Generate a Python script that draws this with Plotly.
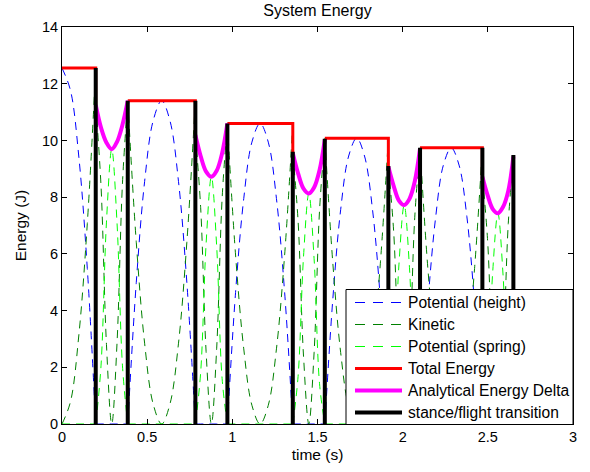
import plotly.graph_objects as go

# ---------------- data ----------------
touchdown_t = [0.198, 0.783, 1.355, 1.916, 2.468]
liftoff_t = [0.386, 0.971, 1.543, 2.102, 2.650]
flight_start_t = [0.0, 0.386, 0.971, 1.543, 2.102]
flight_level = [12.55, 11.40, 10.60, 10.08, 9.74]
touchdown_line_top = [12.55, 11.40, 9.60, 9.10, 9.74]
liftoff_line_top = [11.40, 10.60, 10.06, 9.74, 9.49]

flight_t = [
    [0.0, 0.0495, 0.099, 0.1485, 0.198],
    [0.386, 0.436, 0.485, 0.535, 0.585, 0.634, 0.684, 0.733, 0.783],
    [0.971, 1.019, 1.067, 1.115, 1.163, 1.211, 1.259, 1.307, 1.355],
    [1.543, 1.590, 1.636, 1.683, 1.730, 1.776, 1.823, 1.869, 1.916],
    [2.102, 2.148, 2.194, 2.239, 2.285, 2.331, 2.377, 2.422, 2.468],
]
flight_pe_height = [
    [12.55, 11.77, 9.41, 5.49, 0.0],
    [0.0, 4.99, 8.55, 10.69, 11.40, 10.69, 8.55, 4.99, 0.0],
    [0.0, 4.64, 7.95, 9.94, 10.60, 9.94, 7.95, 4.64, 0.0],
    [0.0, 4.41, 7.56, 9.45, 10.08, 9.45, 7.56, 4.41, 0.0],
    [0.0, 4.26, 7.31, 9.13, 9.74, 9.13, 7.31, 4.26, 0.0],
]
flight_kinetic = [
    [0.0, 0.78, 3.14, 7.06, 12.55],
    [11.40, 6.41, 2.85, 0.71, 0.0, 0.71, 2.85, 6.41, 11.40],
    [10.60, 5.96, 2.65, 0.66, 0.0, 0.66, 2.65, 5.96, 10.60],
    [10.08, 5.67, 2.52, 0.63, 0.0, 0.63, 2.52, 5.67, 10.08],
    [9.74, 5.48, 2.43, 0.61, 0.0, 0.61, 2.43, 5.48, 9.74],
]
flight_spring = [
    [0.0, 0.0],
    [0.0, 0.0],
    [0.0, 0.0],
    [0.0, 0.0],
    [0.0, 0.0],
]

stance_t = [
    [0.198, 0.229, 0.261, 0.292, 0.323, 0.355, 0.386],
    [0.783, 0.814, 0.846, 0.877, 0.908, 0.940, 0.971],
    [1.355, 1.386, 1.418, 1.449, 1.480, 1.512, 1.543],
    [1.916, 1.947, 1.978, 2.009, 2.040, 2.071, 2.102],
    [2.468, 2.498, 2.529, 2.559, 2.589, 2.620, 2.650],
]
stance_pe_height = [
    [0.0, 0.0, 0.0, 0.0, 0.0, 0.0, 0.0],
    [0.0, 0.0, 0.0, 0.0, 0.0, 0.0, 0.0],
    [0.0, 0.0, 0.0, 0.0, 0.0, 0.0, 0.0],
    [0.0, 0.0, 0.0, 0.0, 0.0, 0.0, 0.0],
    [0.0, 0.0, 0.0, 0.0, 0.0, 0.0, 0.0],
]
stance_kinetic = [
    [11.25, 8.40, 2.80, 0.0, 2.85, 8.50, 11.40],
    [10.19, 7.64, 2.55, 0.0, 2.65, 7.95, 10.60],
    [9.55, 7.16, 2.39, 0.0, 2.51, 7.53, 10.04],
    [9.07, 6.80, 2.27, 0.0, 2.43, 7.29, 9.72],
    [8.72, 6.54, 2.18, 0.0, 2.36, 7.07, 9.43],
]
stance_spring = [
    [0.0, 2.05, 7.12, 9.69, 7.10, 2.05, 0.0],
    [0.0, 1.81, 6.35, 8.72, 6.28, 1.60, 0.0],
    [0.0, 1.68, 5.91, 8.13, 5.83, 1.42, 0.0],
    [0.0, 1.60, 5.61, 7.72, 5.51, 1.26, 0.0],
    [0.0, 1.54, 5.40, 7.43, 5.29, 1.15, 0.0],
]
stance_total = [
    [11.25, 10.45, 9.92, 9.69, 9.95, 10.55, 11.40],
    [10.19, 9.45, 8.90, 8.72, 8.93, 9.55, 10.60],
    [9.55, 8.84, 8.30, 8.13, 8.34, 8.95, 10.04],
    [9.07, 8.40, 7.88, 7.72, 7.94, 8.55, 9.72],
    [8.72, 8.08, 7.58, 7.43, 7.65, 8.22, 9.43],
]

series_names = ["Potential (height)", "Kinetic", "Potential (spring)",
                "Total Energy", "Analytical Energy Delta", "stance/flight transition"]

x_ticks = [0, 0.5, 1, 1.5, 2, 2.5, 3]
x_tick_labels = ["0", "0.5", "1", "1.5", "2", "2.5", "3"]
y_ticks = [0, 2, 4, 6, 8, 10, 12, 14]
y_tick_labels = ["0", "2", "4", "6", "8", "10", "12", "14"]

# ---------------- styling ----------------
FONT = "Liberation Sans, Arial, Helvetica, sans-serif"
DASH = "8px,6px"
LEG_DASH = "10px,8px"
styles = [
    dict(color="#0000ff", width=1, dash=DASH),
    dict(color="#008000", width=1, dash=DASH),
    dict(color="#00ff00", width=1, dash=DASH),
    dict(color="#ff0000", width=3, dash="solid"),
    dict(color="#ff00ff", width=4, dash="solid"),
    dict(color="#000000", width=4, dash="solid"),
]


def join(seg_x, seg_y):
    xs, ys = [], []
    for sx, sy in zip(seg_x, seg_y):
        xs += list(sx) + [None]
        ys += list(sy) + [None]
    return xs, ys


pe_x, pe_y = join(flight_t + stance_t, flight_pe_height + stance_pe_height)
ke_x, ke_y = join(flight_t + stance_t, flight_kinetic + stance_kinetic)
spring_flight_t = [[s, e] for s, e in zip(flight_start_t, touchdown_t)]
sp_x, sp_y = join(spring_flight_t + stance_t, flight_spring + stance_spring)

red_x, red_y = [], []
for s, td, lev, st in zip(flight_start_t, touchdown_t, flight_level, stance_total):
    red_x += [s, td, td, None]
    red_y += [lev, lev, st[0], None]

mag_x, mag_y = join(stance_t, stance_total)

blk_x, blk_y = [], []
for t, top in zip(touchdown_t + liftoff_t, touchdown_line_top + liftoff_line_top):
    blk_x += [t, t, None]
    blk_y += [0, top, None]

data_xy = [(pe_x, pe_y, "spline"), (ke_x, ke_y, "spline"), (sp_x, sp_y, "spline"),
           (red_x, red_y, "linear"), (mag_x, mag_y, "spline"), (blk_x, blk_y, "linear")]

fig = go.Figure()
for (xx, yy, shp), name, st in zip(data_xy, series_names, styles):
    fig.add_trace(go.Scatter(x=xx, y=yy, mode="lines", name=name, showlegend=False,
                             line=dict(color=st["color"], width=st["width"],
                                       dash=st["dash"], shape=shp)))

# ---------------- legend box (drawn in paper coordinates) ----------------
PLOT_L, PLOT_R, PLOT_T, PLOT_B = 62, 573, 27, 424


def px_x(px):
    return (px - PLOT_L) / (PLOT_R - PLOT_L)


def px_y(py):
    return (PLOT_B - py) / (PLOT_B - PLOT_T)


fig.add_shape(type="rect", xref="paper", yref="paper",
              x0=px_x(346), x1=px_x(573), y0=px_y(424.5), y1=px_y(289.5),
              line=dict(color="black", width=1), fillcolor="white", layer="above")
row_y = [302.5, 324.5, 346.5, 368.5, 390.5, 412.5]
for name, st, ry in zip(series_names, styles, row_y):
    d = LEG_DASH if st["dash"] != "solid" else "solid"
    fig.add_shape(type="line", xref="paper", yref="paper",
                  x0=px_x(355), x1=px_x(402), y0=px_y(ry), y1=px_y(ry),
                  line=dict(color=st["color"], width=st["width"], dash=d), layer="above")
    fig.add_annotation(text=name, xref="paper", yref="paper", x=px_x(406), y=px_y(ry),
                       xanchor="left", yanchor="middle", showarrow=False,
                       font=dict(family=FONT, size=15.6, color="black"))

axis_common = dict(
    ticks="inside", ticklen=5, tickcolor="black", tickwidth=1,
    showline=True, linecolor="black", linewidth=1, mirror="ticks",
    showgrid=False, zeroline=False,
    tickfont=dict(family=FONT, size=14.5, color="black"),
)

fig.update_layout(
    width=590, height=472, autosize=False,
    margin=dict(l=PLOT_L, r=590 - PLOT_R, t=PLOT_T, b=472 - PLOT_B),
    paper_bgcolor="white", plot_bgcolor="white",
    font=dict(family=FONT, color="black"),
    title=dict(text="System Energy", x=0.5, xref="paper", xanchor="center",
               y=1 - 10 / 472, yref="container", yanchor="middle",
               font=dict(family=FONT, size=16, color="black")),
    xaxis=dict(range=[0, 3], tickvals=x_ticks, ticktext=x_tick_labels,
               title=dict(text="time (s)", standoff=4,
                          font=dict(family=FONT, size=15.5, color="black")),
               **axis_common),
    yaxis=dict(range=[0, 14], tickvals=y_ticks, ticktext=y_tick_labels,
               title=dict(text="Energy (J)", standoff=11,
                          font=dict(family=FONT, size=15.5, color="black")),
               **axis_common),
    showlegend=False,
)

fig.write_html("out.html", config={"displayModeBar": False})
